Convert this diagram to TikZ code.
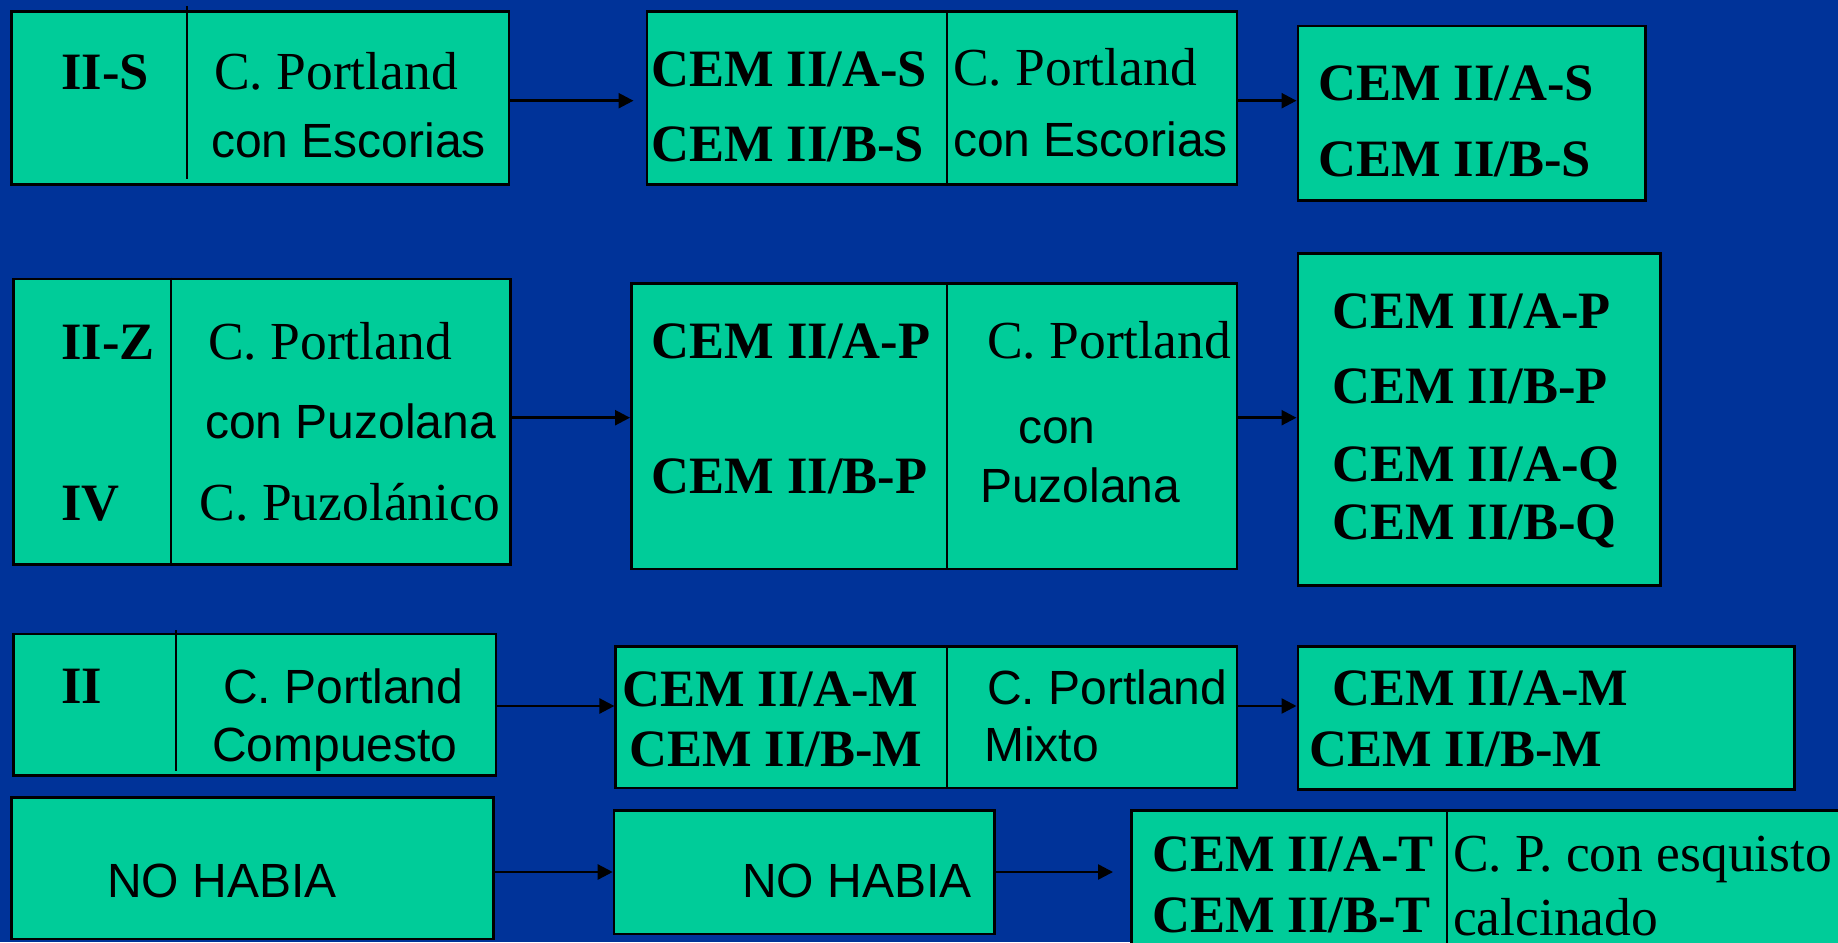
\documentclass[tikz,border=0pt]{standalone}
\usepackage{fontspec}
\setmainfont{Liberation Serif}
\setsansfont{Liberation Sans}
\usetikzlibrary{arrows.meta}
\definecolor{slideblue}{RGB}{0,51,153}
\definecolor{cellgreen}{RGB}{0,204,153}
\begin{document}
\begin{tikzpicture}[x=1pt,y=-1pt,>={Triangle[length=15pt,width=15pt]},
  cell/.style={draw,fill=cellgreen,line width=2.5pt,inner sep=0,anchor=north west},
  sep/.style={line width=2pt},
  link/.style={->,line width=2.5pt},
  code/.style={anchor=base west,inner sep=0,font=\fontsize{52.5}{60}\selectfont\bfseries},
  serif/.style={anchor=base west,inner sep=0,font=\fontsize{53.5}{60}\selectfont},
  sans/.style={anchor=base west,inner sep=0,font=\fontsize{48}{52}\selectfont\sffamily}]
\path[use as bounding box,fill=slideblue] (0,0) rectangle (1838,942);
\node[cell,minimum width=497.6pt,minimum height=173pt] (sOld) at (10,10.3) {};
\node[cell,minimum width=590pt,minimum height=173pt] (sNew) at (645.5,10.3) {};
\node[cell,minimum width=347.5pt,minimum height=174pt] (sCem) at (1296.5,25) {};
\node[cell,minimum width=497pt,minimum height=285.3pt] (zOld) at (12.3,277.7) {};
\node[cell,minimum width=605.5pt,minimum height=285.4pt] (zNew) at (630,282.3) {};
\node[cell,minimum width=362.5pt,minimum height=332pt] (zCem) at (1296.5,252.3) {};
\node[cell,minimum width=482.4pt,minimum height=141.6pt] (mOld) at (12.3,632.7) {};
\node[cell,minimum width=621.1pt,minimum height=141.7pt] (mNew) at (614.4,645) {};
\node[cell,minimum width=496.5pt,minimum height=143.3pt] (mCem) at (1296.5,645) {};
\node[cell,minimum width=482.4pt,minimum height=141.4pt] (tOld) at (10,796.3) {};
\node[cell,minimum width=380.3pt,minimum height=123.4pt] (tNew) at (612.7,809.3) {};
\node[cell,minimum width=730pt,minimum height=150pt] (tCem) at (1130,809.3) {};
\draw[sep] (187,6) -- (187,179);
\draw[sep] (947.3,10.3) -- (947.3,183.3);
\draw[sep] (171,277.7) -- (171,563);
\draw[sep] (947.3,282.3) -- (947.3,567.7);
\draw[sep] (176,630) -- (176,771);
\draw[sep] (947.3,645) -- (947.3,786.7);
\draw[sep] (1447,812) -- (1447,960);
\node[code] (sOldC) at (61,89) {II-S};
\node[serif] (sOldN) at (214,89) {C. Portland};
\node[sans] (sOldD) at (211,157) {con Escorias};
\node[code] (sNewA) at (651,86) {CEM II/A-S};
\node[code] (sNewB) at (651,161) {CEM II/B-S};
\node[serif] (sNewN) at (953,85) {C. Portland};
\node[sans] (sNewD) at (953,156) {con Escorias};
\node[code] (sCemA) at (1318,100) {CEM II/A-S};
\node[code] (sCemB) at (1318,176) {CEM II/B-S};
\node[code] (zOldC) at (61,359) {II-Z};
\node[serif] (zOldN) at (208,359) {C. Portland};
\node[sans] (zOldD) at (205,438) {con Puzolana};
\node[code] (zOldE) at (61,520) {IV};
\node[serif] (zOldF) at (199.5,520) {C. Puzolánico};
\node[code] (zNewA) at (651.7,358) {CEM II/A-P};
\node[code] (zNewB) at (651.7,493.7) {CEM II/B-P};
\node[serif] (zNewN) at (987,358) {C. Portland};
\node[sans] (zNewD) at (1018,443) {con};
\node[sans] (zNewE) at (980,502) {Puzolana};
\node[code] (zCemA) at (1332,328) {CEM II/A-P};
\node[code] (zCemB) at (1332,403) {CEM II/B-P};
\node[code] (zCemC) at (1332,481) {CEM II/A-Q};
\node[code] (zCemD) at (1332,539) {CEM II/B-Q};
\node[code] (mOldC) at (61,703) {II};
\node[sans] (mOldN) at (223,703) {C. Portland};
\node[sans] (mOldD) at (212,761) {Compuesto};
\node[code] (mNewA) at (622,706) {CEM II/A-M};
\node[code] (mNewB) at (629,766) {CEM II/B-M};
\node[sans] (mNewN) at (987,704) {C. Portland};
\node[sans] (mNewD) at (984,761) {Mixto};
\node[code] (mCemA) at (1332,705) {CEM II/A-M};
\node[code] (mCemB) at (1309,766) {CEM II/B-M};
\node[sans] (tOldN) at (107,897) {NO HABIA};
\node[sans] (tNewN) at (742,897) {NO HABIA};
\node[code] (tCemA) at (1152,871) {CEM II/A-T};
\node[code] (tCemB) at (1152,932) {CEM II/B-T};
\node[serif] (tCemN) at (1453,871) {C. P. con esquisto};
\node[serif] (tCemD) at (1453,935) {calcinado};
\draw[link,shorten >=12pt] (sOld.east |- 0,100.7) -- (sNew.west |- 0,100.7);
\draw[link] (sNew.east |- 0,100.7) -- (sCem.west |- 0,100.7);
\draw[link] (zOld.east |- 0,417.7) -- (zNew.west |- 0,417.7);
\draw[link] (zNew.east |- 0,417.7) -- (zCem.west |- 0,417.7);
\draw[link] (mOld.east |- 0,706) -- (mNew.west |- 0,706);
\draw[link] (mNew.east |- 0,706) -- (mCem.west |- 0,706);
\draw[link] (tOld.east |- 0,872) -- (tNew.west |- 0,872);
\draw[link,shorten >=17pt] (tNew.east |- 0,872) -- (tCem.west |- 0,872);
\end{tikzpicture}
\end{document}
